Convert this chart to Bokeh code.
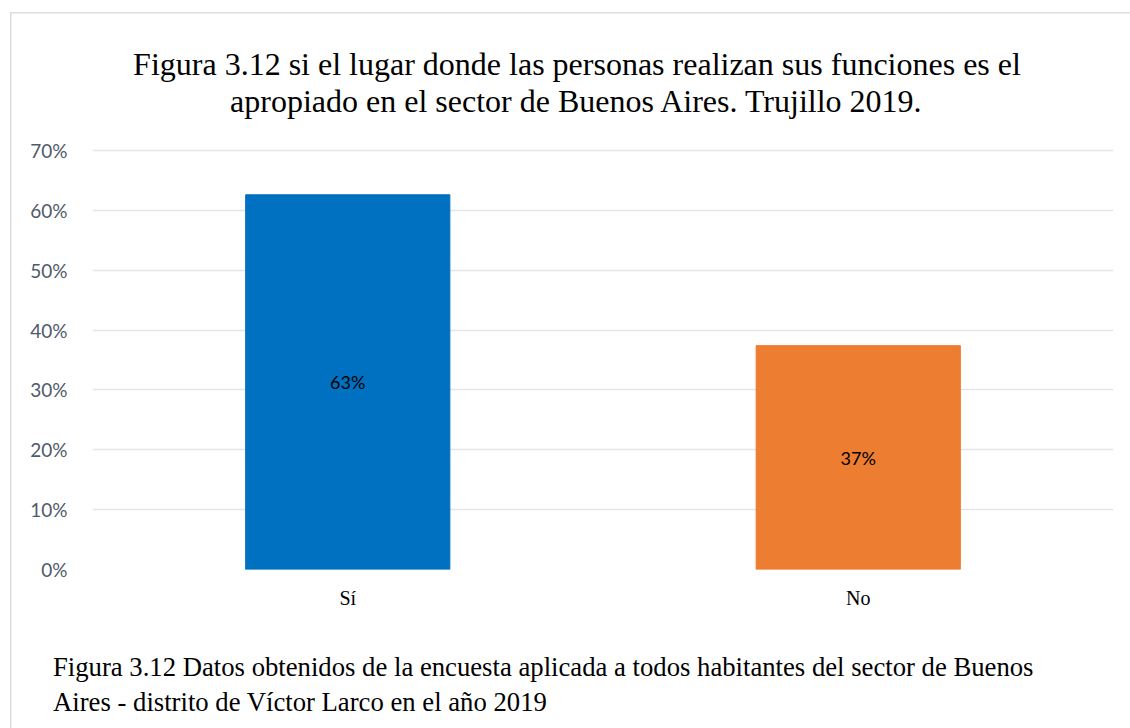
from html import escape
from bokeh.plotting import figure
from bokeh.models import (FactorRange, Range1d, NumeralTickFormatter, FixedTicker,
                          Label, ColumnDataSource, LabelSet, Column, Div)
from bokeh.core.properties import value
from bokeh.embed import file_html
from bokeh.resources import INLINE

categories = ["Sí", "No"]
values = [0.626, 0.374]
value_labels = ["63%", "37%"]
colors = ["#0070C0", "#ED7D31"]
y_ticks = [0.0, 0.1, 0.2, 0.3, 0.4, 0.5, 0.6, 0.7]
title_lines = ["Figura 3.12 si el lugar donde las personas realizan sus funciones es el",
               "apropiado en el sector de Buenos Aires. Trujillo 2019."]
footer_lines = ["Figura 3.12 Datos obtenidos de la encuesta aplicada a todos habitantes del sector de Buenos",
                "Aires - distrito de Víctor Larco en el año 2019"]

# page geometry (pixels from the top-left of the page)
OX, OY = 10, 12                 # top-left corner of the bordered chart box
TOTAL_W, TOTAL_H = 1118, 714     # size of the chart box
CHART_BOTTOM = 620               # where the footer strip begins (page y)
FL, FR, FB = 92, 1113, 569       # frame left / right / bottom (page); frame top = OY
PX = (569 - 150) / 0.7           # pixels per unit on y
XPX = (FR - FL) / 2.0
YEND = (FB - OY) / PX

def dy(py):
    return (FB - py) / PX

def dx(px):
    return (px - FL) / XPX

H1 = CHART_BOTTOM - OY
p = figure(width=TOTAL_W, height=H1, x_range=FactorRange(*categories), y_range=Range1d(0, YEND),
           output_backend="svg", toolbar_location=None, title=None,
           min_border_left=FL - OX, min_border_right=TOTAL_W - (FR - OX),
           min_border_top=0, min_border_bottom=H1 - (FB - OY))
p.outline_line_color = None
p.background_fill_color = None
p.border_fill_color = None

src = ColumnDataSource(dict(cat=categories, val=values, mid=[v / 2 for v in values],
                            lab=value_labels, col=colors))
p.vbar(x="cat", top="val", width=0.4, color="col", source=src)

p.add_layout(LabelSet(x="cat", y="mid", text="lab", source=src, text_align="center",
                      text_baseline="middle", text_font=value("Lato"), text_font_size="18px",
                      text_color="black"))

p.xgrid.grid_line_color = None
p.ygrid.grid_line_color = "#E1E5EA"
p.ygrid.grid_line_width = 1.5
p.ygrid.ticker = FixedTicker(ticks=y_ticks)

p.yaxis.ticker = FixedTicker(ticks=y_ticks)
p.yaxis.formatter = NumeralTickFormatter(format="0%")
p.yaxis.axis_line_color = None
p.yaxis.major_tick_line_color = None
p.yaxis.minor_tick_line_color = None
p.yaxis.major_label_text_font = "Lato"
p.yaxis.major_label_text_font_size = "19px"
p.yaxis.major_label_text_color = "#4F5A6B"
p.yaxis.major_label_standoff = 19

p.xaxis.axis_line_color = None
p.xaxis.major_tick_line_color = None
p.xaxis.minor_tick_line_color = None
p.xaxis.major_label_text_font = "Liberation Serif"
p.xaxis.major_label_text_font_size = "20px"
p.xaxis.major_label_text_color = "black"
p.xaxis.major_label_standoff = 11

for t, b in zip(title_lines, [63.3, 100]):
    p.add_layout(Label(x=dx(576.5), y=dy(b), text=t, text_align="center",
                       text_baseline="alphabetic", text_font="Liberation Serif",
                       text_font_size="32px", text_color="black"))

footer_html = ('<div style="padding: 25px 0 0 {pl}px; font-family: \'Liberation Serif\'; '
               'font-size: 26.7px; line-height: 34.7px; color: black; white-space: nowrap;">'
               '{body}</div>').format(pl=38, body="<br>".join(escape(t) for t in footer_lines))
footer = Div(text=footer_html, width=TOTAL_W, height=TOTAL_H - H1)

layout = Column(children=[p, footer], spacing=0, styles={
    "margin-left": f"{OX}px",
    "margin-top": f"{OY}px",
    "box-shadow": "inset 1.5px 1.5px 0 0 #D9DEE4",
})

open("out.html", "w").write(file_html(layout, INLINE))
